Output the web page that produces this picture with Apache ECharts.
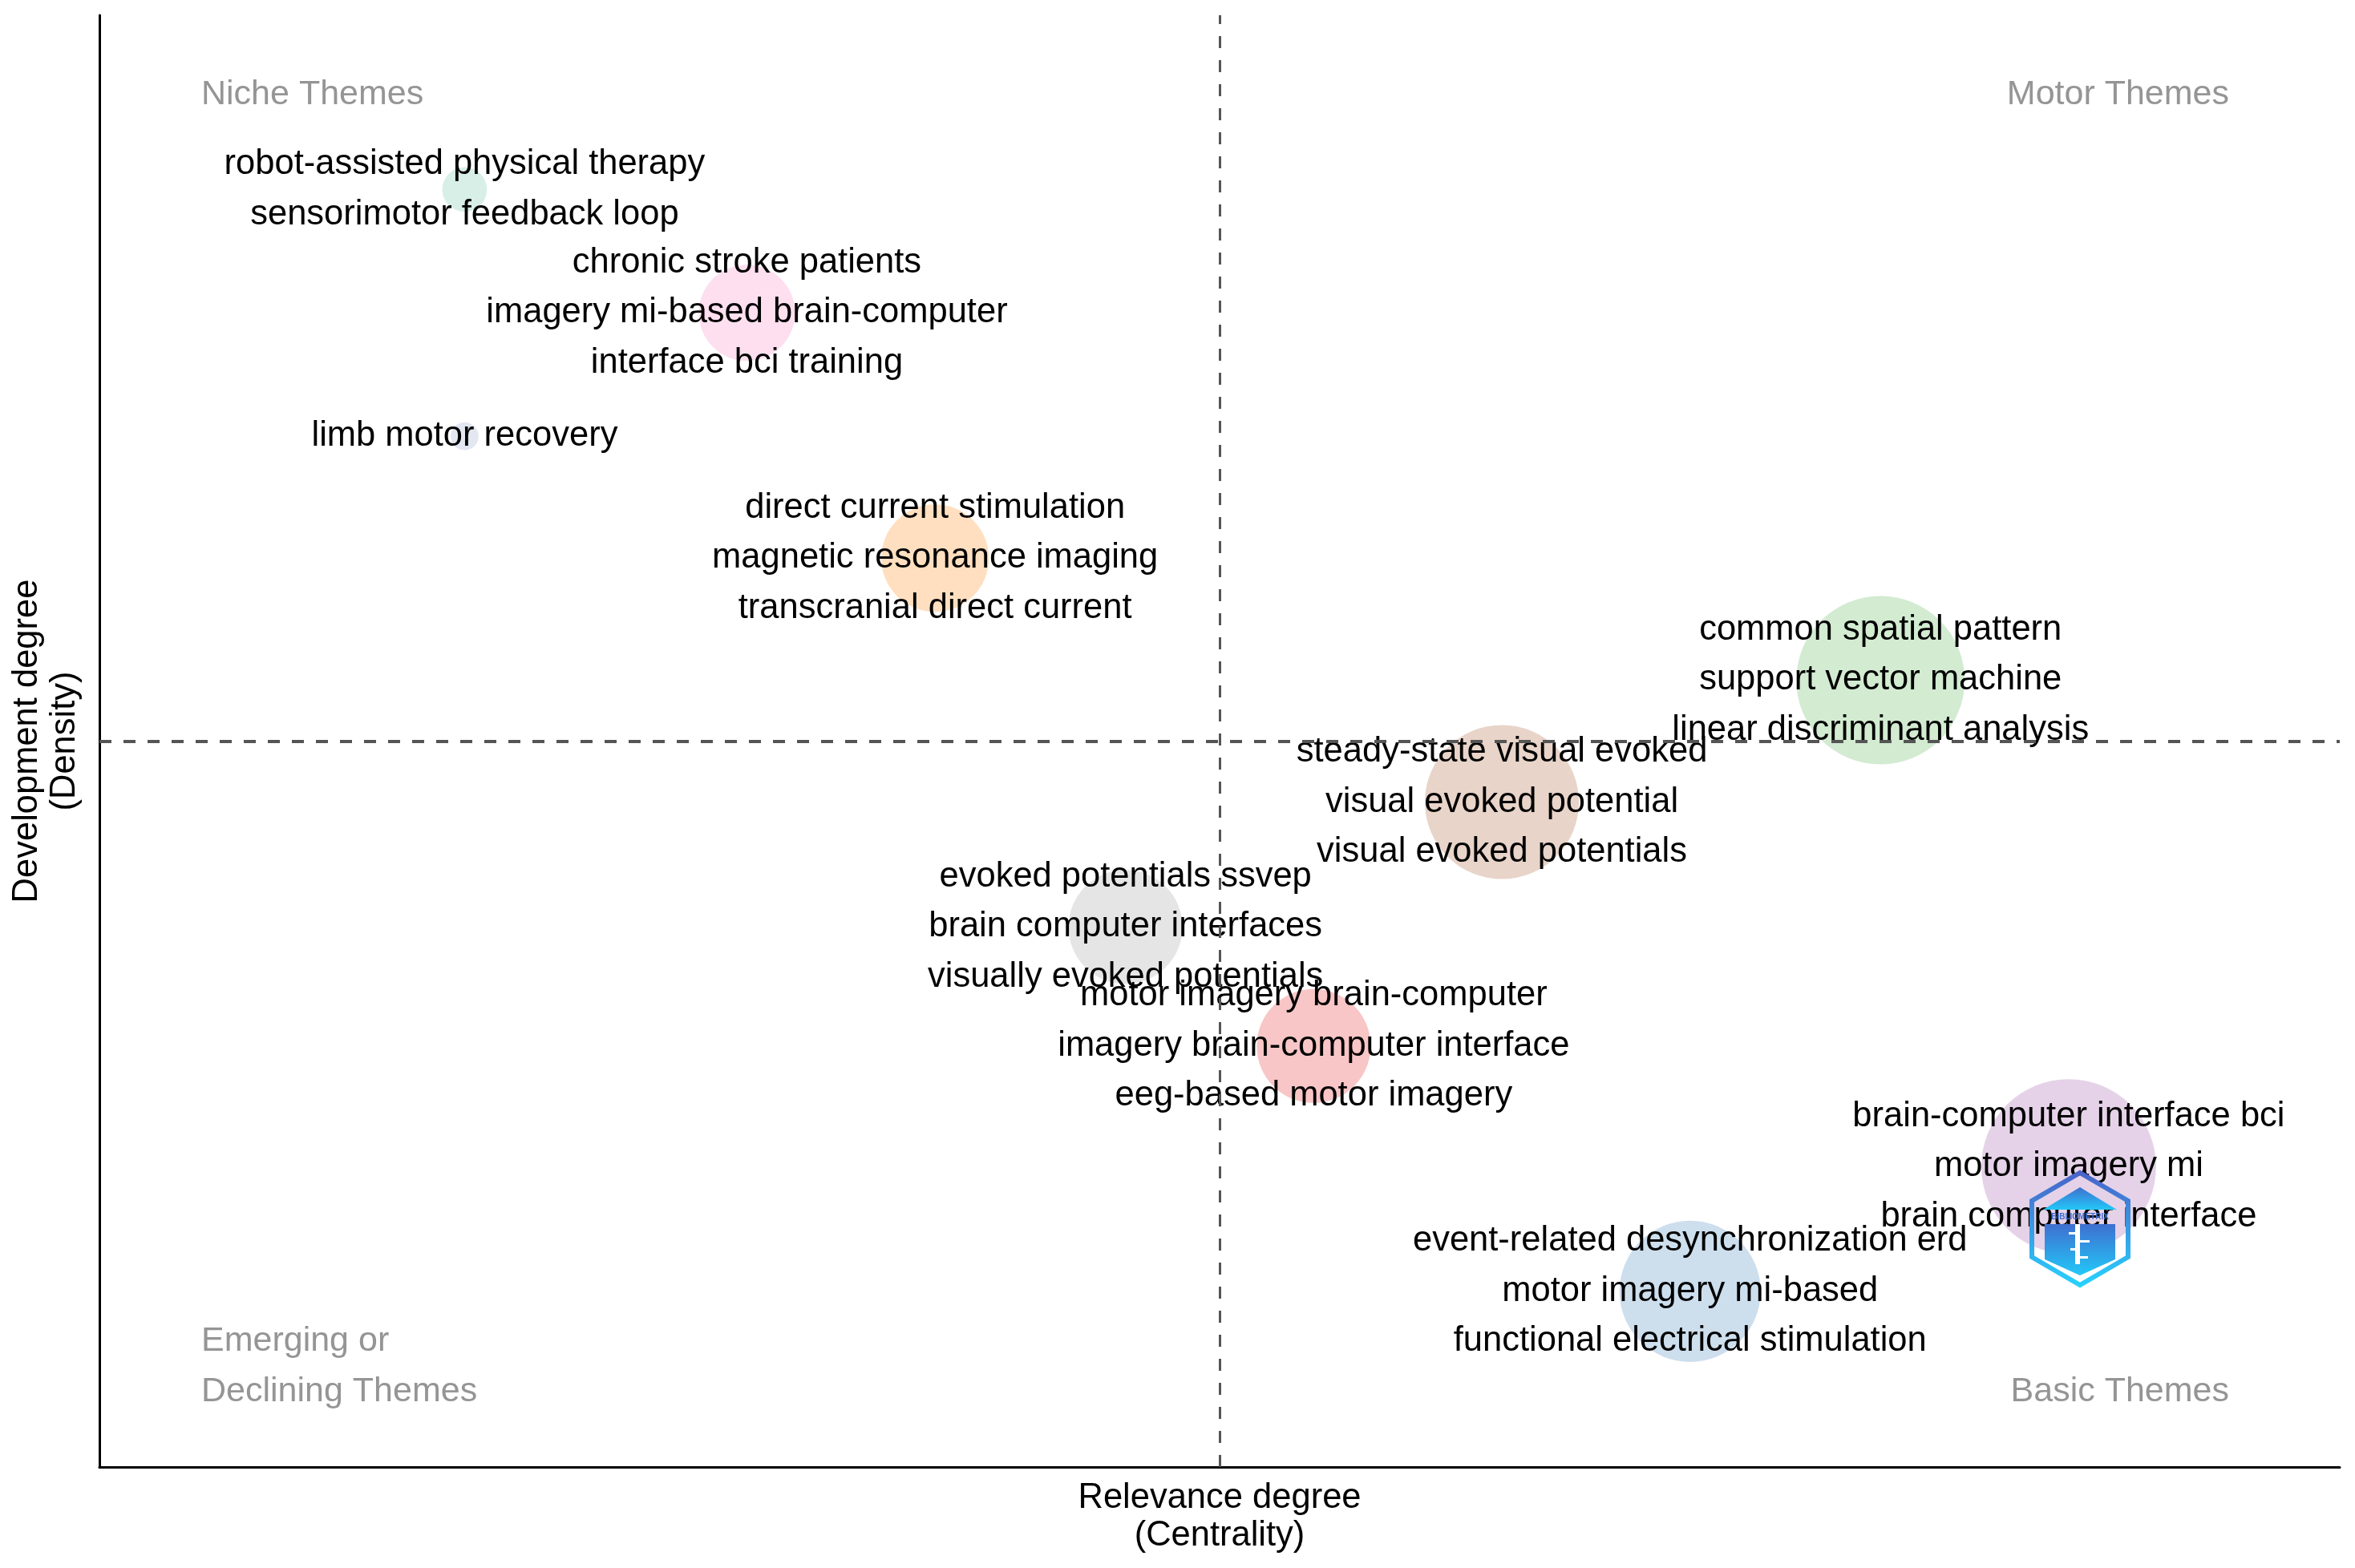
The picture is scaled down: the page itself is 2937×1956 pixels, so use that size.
<!DOCTYPE html>
<html>
<head>
<meta charset="utf-8">
<script src="https://cdn.jsdelivr.net/npm/echarts@6/dist/echarts.min.js"></script>
<style>
  html, body { margin: 0; padding: 0; background: #ffffff; }
  #chart { width: 2937px; height: 1956px; }
</style>
</head>
<body>
<div id="chart"></div>
<script>
const themeLabels = [
  ["robot-assisted physical therapy", "sensorimotor feedback loop"],
  ["chronic stroke patients", "imagery mi-based brain-computer", "interface bci training"],
  ["limb motor recovery"],
  ["direct current stimulation", "magnetic resonance imaging", "transcranial direct current"],
  ["common spatial pattern", "support vector machine", "linear discriminant analysis"],
  ["steady-state visual evoked", "visual evoked potential", "visual evoked potentials"],
  ["evoked potentials ssvep", "brain computer interfaces", "visually evoked potentials"],
  ["motor imagery brain-computer", "imagery brain-computer interface", "eeg-based motor imagery"],
  ["brain-computer interface bci", "motor imagery mi", "brain computer interface"],
  ["event-related desynchronization erd", "motor imagery mi-based", "functional electrical stimulation"]
];
// Relevance degree (Centrality), relative scale
const centrality = [0.163, 0.289, 0.163, 0.373, 0.795, 0.626, 0.458, 0.542, 0.879, 0.710];
// Development degree (Density), relative scale
const density    = [0.880, 0.795, 0.710, 0.626, 0.542, 0.458, 0.372, 0.290, 0.207, 0.121];
// Bubble size (relative frequency)
const frequency  = [31, 144, 12, 180, 441, 369, 202, 202, 475, 310];

const quadrantNames = ["Niche Themes", "Motor Themes", "Emerging or", "Declining Themes", "Basic Themes"];
const axisNames = ["Relevance degree\n(Centrality)", "Development degree\n(Density)"];

// ---- Styles ----
const palette = ["#d8efe8", "#fddfef", "#e2e7f2", "#ffdfbf", "#d2ebd1",
                 "#e8d4c9", "#e5e5e5", "#f8c6c6", "#e5d2e8", "#cddeed"];
const FONT = "'Liberation Sans', Arial, sans-serif";
const QFONT = '43px ' + FONT;
const QCOL = '#959595';

const meanX = centrality.reduce((a, b) => a + b, 0) / centrality.length;
const meanY = density.reduce((a, b) => a + b, 0) / density.length;

const seriesData = centrality.map((c, i) => ({
  name: themeLabels[i].join("\n"),
  value: [c, density[i], frequency[i]],
  itemStyle: { color: palette[i] }
}));

const chart = echarts.init(document.getElementById('chart'), null, { renderer: 'canvas' });

const hexGrad = new echarts.graphic.LinearGradient(0, 0, 0, 1, [
  { offset: 0, color: '#4a62c8' }, { offset: 1, color: '#27d3ff' }
]);
const fillGrad = new echarts.graphic.LinearGradient(0, 0, 0, 1, [
  { offset: 0, color: '#3f6fd0' }, { offset: 1, color: '#22c8f8' }
]);

const option = {
  backgroundColor: '#ffffff',
  animation: false,
  grid: { left: 124, right: 19, top: 19, bottom: 126, containLabel: false },
  xAxis: {
    type: 'value', min: 0, max: 1,
    name: axisNames[0], nameLocation: 'middle', nameGap: 15,
    nameTextStyle: { fontFamily: FONT, fontSize: 43.5, color: '#000', lineHeight: 47 },
    axisLine: { show: true, onZero: false, lineStyle: { color: '#000', width: 3 } },
    axisTick: { show: false }, axisLabel: { show: false }, splitLine: { show: false }
  },
  yAxis: {
    type: 'value', min: 0, max: 1,
    name: axisNames[1], nameLocation: 'middle', nameGap: 20, nameRotate: 90,
    nameTextStyle: { fontFamily: FONT, fontSize: 43.5, color: '#000', lineHeight: 47 },
    axisLine: { show: true, onZero: false, lineStyle: { color: '#000', width: 3 } },
    axisTick: { show: false }, axisLabel: { show: false }, splitLine: { show: false }
  },
  series: [{
    type: 'scatter',
    data: seriesData,
    symbol: 'circle',
    symbolSize: function (val) { return 10 * Math.sqrt(val[2]); },
    itemStyle: { opacity: 1 },
    label: {
      show: true, position: 'inside', offset: [0, 4],
      formatter: function (p) { return p.name; },
      fontFamily: FONT, fontSize: 43.5, color: '#000', lineHeight: 62.5, align: 'center'
    },
    emphasis: { disabled: true },
    labelLayout: { hideOverlap: false },
    markLine: {
      silent: true, symbol: ['none', 'none'], label: { show: false },
      data: [
        { xAxis: meanX, lineStyle: { type: [15, 15], color: '#555555', width: 3 } },
        { yAxis: meanY, lineStyle: { type: [15, 15], color: '#555555', width: 4 } }
      ]
    },
    z: 2
  }],
  graphic: [
    { type: 'text', x: 251, y: 118,
      style: { text: quadrantNames[0], font: QFONT, fill: QCOL, align: 'left', verticalAlign: 'middle' } },
    { type: 'text', x: 2780, y: 118,
      style: { text: quadrantNames[1], font: QFONT, fill: QCOL, align: 'right', verticalAlign: 'middle' } },
    { type: 'text', x: 251, y: 1673,
      style: { text: quadrantNames[2], font: QFONT, fill: QCOL, align: 'left', verticalAlign: 'middle' } },
    { type: 'text', x: 251, y: 1736,
      style: { text: quadrantNames[3], font: QFONT, fill: QCOL, align: 'left', verticalAlign: 'middle' } },
    { type: 'text', x: 2780, y: 1736,
      style: { text: quadrantNames[4], font: QFONT, fill: QCOL, align: 'right', verticalAlign: 'middle' } },
    {
      type: 'group', x: 2594, y: 1533, zlevel: 5,
      children: [
        { type: 'polygon', zlevel: 5, shape: { points: [[0, -70], [60, -35], [60, 35], [0, 70], [-60, 35], [-60, -35]] },
          style: { fill: 'none', stroke: hexGrad, lineWidth: 6 } },
        { type: 'polygon', zlevel: 5, shape: { points: [[0, -52], [46, -24], [-46, -24]] },
          style: { fill: fillGrad } },
        { type: 'text', zlevel: 5, x: 0, y: -15,
          style: { text: 'BIBLIOMETRIX', font: 'bold 10px ' + FONT, fill: '#3f6fd0', align: 'center', verticalAlign: 'middle' } },
        { type: 'polygon', zlevel: 5, shape: { points: [[-44, -6], [44, -6], [44, 38], [0, 58], [-44, 38]] },
          style: { fill: fillGrad } },
        { type: 'rect', zlevel: 5, shape: { x: -6, y: -6, width: 6, height: 50 }, style: { fill: '#ffffff' } },
        { type: 'rect', zlevel: 5, shape: { x: -14, y: 4, width: 14, height: 3 }, style: { fill: '#ffffff' } },
        { type: 'rect', zlevel: 5, shape: { x: 0, y: 14, width: 12, height: 3 }, style: { fill: '#ffffff' } },
        { type: 'rect', zlevel: 5, shape: { x: -12, y: 24, width: 12, height: 3 }, style: { fill: '#ffffff' } },
        { type: 'rect', zlevel: 5, shape: { x: 0, y: 34, width: 10, height: 3 }, style: { fill: '#ffffff' } }
      ]
    }
  ]
};

chart.setOption(option);
</script>
</body>
</html>
